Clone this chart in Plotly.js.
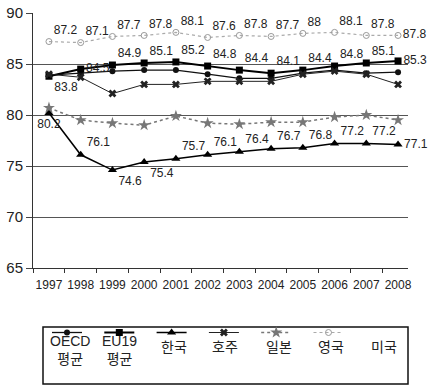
<!DOCTYPE html>
<html>
<head>
<meta charset="utf-8">
<script src="https://cdn.plot.ly/plotly-3.0.1.min.js"></script>
<style>
  html, body { margin: 0; padding: 0; background: #fff; }
  #chart { width: 430px; height: 388px; }
</style>
</head>
<body>
<div id="chart"></div>
<script>
// Years on the x axis
const years = [1997, 1998, 1999, 2000, 2001, 2002, 2003, 2004, 2005, 2006, 2007, 2008];

// Series values
const oecdAvg   = [83.9, 84.1, 84.3, 84.4, 84.4, 84.0, 83.6, 83.6, 84.1, 84.4, 84.1, 84.2];
const eu19Avg   = [83.8, 84.5, 84.9, 85.1, 85.2, 84.8, 84.4, 84.1, 84.4, 84.8, 85.1, 85.3];
const korea     = [80.2, 76.1, 74.6, 75.4, 75.7, 76.1, 76.4, 76.7, 76.8, 77.2, 77.2, 77.1];
const australia = [84.0, 83.7, 82.1, 83.0, 83.0, 83.3, 83.3, 83.3, 84.0, 84.3, 84.0, 83.0];
const japan     = [80.7, 79.5, 79.2, 79.0, 79.9, 79.2, 79.1, 79.3, 79.3, 79.8, 80.0, 79.5];
const uk        = [87.2, 87.1, 87.7, 87.8, 88.1, 87.6, 87.8, 87.7, 88.0, 88.1, 87.8, 87.8];

// Legend captions (symbols come from the traces, captions are drawn under them)
const legendNames = ['OECD<br>평균', 'EU19<br>평균', '한국', '호주', '일본', '영국', '미국'];

const yTicks = [65, 70, 75, 80, 85, 90];

const labelFont = { family: 'Liberation Sans, Arial, sans-serif', size: 12, color: '#222' };

function fmt(v) { return String(v); }

const ukPos    = years.map((_, i) => i === years.length - 1 ? 'middle right' : 'top right');
const eu19Pos  = years.map((_, i) => i === 0 ? 'bottom right' : (i === 1 || i === years.length - 1) ? 'middle right' : 'top right');
const koreaPos = years.map((_, i) => {
  if (i === 0) return 'bottom center';
  if (i === 2 || i === 3) return 'bottom right';
  if (i === years.length - 1) return 'middle right';
  return 'top right';
});

const traces = [
  {
    x: years, y: oecdAvg, name: ' ', mode: 'lines+markers',
    line: { color: '#111', width: 1.3 },
    marker: { symbol: 'circle', size: 6, color: '#111' }
  },
  {
    x: years, y: eu19Avg, name: ' ', mode: 'lines+markers+text',
    line: { color: '#000', width: 2 },
    marker: { symbol: 'square', size: 7, color: '#000' },
    text: eu19Avg.map(fmt), textposition: eu19Pos, textfont: labelFont,
    cliponaxis: false
  },
  {
    x: years, y: korea, name: ' ', mode: 'lines+markers+text',
    line: { color: '#000', width: 1.5 },
    marker: { symbol: 'triangle-up', size: 8, color: '#000' },
    text: korea.map(fmt), textposition: koreaPos, textfont: labelFont,
    cliponaxis: false
  },
  {
    x: years, y: australia, name: ' ', mode: 'lines+markers',
    line: { color: '#222', width: 1 },
    marker: { symbol: 'x', size: 7, color: '#222' }
  },
  {
    x: years, y: japan, name: ' ', mode: 'lines+markers',
    line: { color: '#777', width: 1.5, dash: 'dot' },
    marker: { symbol: 'star', size: 9, color: '#777' }
  },
  {
    x: years, y: uk, name: ' ', mode: 'lines+markers+text',
    line: { color: '#aaa', width: 1.2, dash: 'dot' },
    marker: { symbol: 'circle-open', size: 6, color: '#999', line: { width: 1 } },
    text: uk.map(fmt), textposition: ukPos, textfont: labelFont,
    cliponaxis: false
  }
];

// Plot area geometry (pixels) used to place the legend captions and frame
const M = { l: 33, r: 22, t: 13, b: 120 };
const W = 430, H = 388;
const pw = W - M.l - M.r, ph = H - M.t - M.b;
const px = v => (v - M.l) / pw;
const py = v => (H - M.b - v) / ph;

const captionX = [70, 119, 174, 225, 279, 331, 384];
const annotations = legendNames.map((t, i) => ({
  text: t, x: px(captionX[i]), y: py(i < 2 ? 350 : 347),
  xref: 'paper', yref: 'paper', xanchor: 'center', yanchor: 'middle',
  showarrow: false, align: 'center',
  font: { family: 'Liberation Sans Narrow, Liberation Sans, Noto Sans CJK KR, sans-serif', size: 14, color: '#222' }
}));

const layout = {
  width: W, height: H,
  margin: M,
  paper_bgcolor: '#fff', plot_bgcolor: '#fff',
  showlegend: true,
  legend: {
    orientation: 'h', x: px(47), xanchor: 'left', y: py(318), yanchor: 'top',
    itemwidth: 30, entrywidth: 7.3, entrywidthmode: 'pixels',
    font: { size: 8, color: '#222' }, bgcolor: 'rgba(0,0,0,0)', borderwidth: 0,
    traceorder: 'normal'
  },
  xaxis: {
    range: [1996.497, 2008.314], tickvals: years, ticks: '',
    showgrid: false, zeroline: false, showline: true, linecolor: '#333', linewidth: 1,
    tickfont: { family: 'Liberation Sans, Arial, sans-serif', size: 12, color: '#222' },
    ticklabelstandoff: 6,
    minor: { tick0: 1996.5, dtick: 1, ticks: 'outside', ticklen: 4, tickcolor: '#333', showgrid: false }
  },
  yaxis: {
    range: [65, 90], tickvals: yTicks, ticks: 'outside', ticklen: 6, tickcolor: '#444',
    showgrid: true, gridcolor: '#555', gridwidth: 1, zeroline: false,
    showline: true, linecolor: '#333', linewidth: 1,
    tickfont: { family: 'Liberation Sans, Arial, sans-serif', size: 15, color: '#222' }
  },
  shapes: [{
    type: 'rect', xref: 'paper', yref: 'paper',
    x0: px(43), x1: px(408), y0: py(384), y1: py(327),
    line: { color: '#111', width: 1.5 }, fillcolor: 'rgba(0,0,0,0)'
  }],
  annotations: annotations
};

Plotly.newPlot('chart', traces, layout, { displayModeBar: false, staticPlot: true });
</script>
</body>
</html>
